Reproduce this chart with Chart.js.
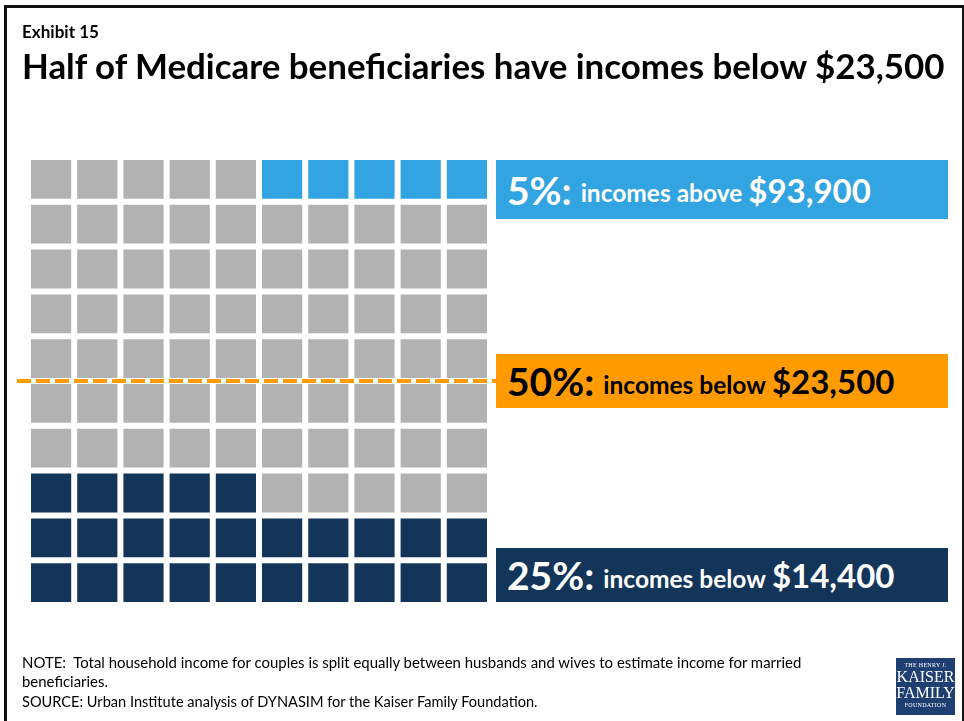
<!DOCTYPE html>
<html>
<head>
<meta charset="utf-8">
<script src="https://cdn.jsdelivr.net/npm/chart.js@4.4.0/dist/chart.umd.min.js"></script>
<style>
  html, body { margin: 0; padding: 0; background: #fff; }
  body { width: 964px; height: 721px; position: relative; overflow: hidden; font-family: Lato, "Open Sans", sans-serif; }
  #frame { position: absolute; left: 4px; top: 5px; width: 955px; height: 740px; border: 3px solid #111; }
  #waffle { position: absolute; left: 0; top: 0; }
  .txt { position: absolute; white-space: nowrap; }
  #exhibit { left: 22px; top: 21px; font-size: 15px; font-weight: 700; }
  #title { left: 22px; top: 45px; font-size: 36px; font-weight: 700; color: #000; }
  .box { position: absolute; left: 496px; width: 452px; height: 54px; display: flex; align-items: center; padding-left: 11px; box-sizing: border-box; font-weight: 700; white-space: nowrap; }
  .box .pct { font-size: 39px; }
  .box .mid { font-size: 24.5px; margin: 0 6px 0 9px; position: relative; top: 3px; }
  .box .amt { font-size: 33px; }
  #bTop { top: 160px; height: 59px; background: #33A4E2; color: #fff; }
  #bMid { top: 354px; background: #FF9A00; color: #000; }
  #bLow { top: 548px; background: #14355A; color: #fff; }
  .note { left: 22px; font-size: 13px; color: #000; }
  #logo { position: absolute; left: 896px; top: 658px; width: 59px; height: 57px; background: #1F3E72; color: #fff; font-family: "Liberation Serif", "DejaVu Serif", serif; text-align: center; }
  #logo div { line-height: 1; }
</style>
</head>
<body>
<div id="frame"></div>
<canvas id="waffle" width="964" height="721"></canvas>
<div class="txt" id="exhibit" data-w="77">Exhibit 15</div>
<div class="txt" id="title" data-w="923">Half of Medicare beneficiaries have incomes below $23,500</div>

<div class="box" id="bTop"><span class="pct">5%:</span><span class="mid">incomes above</span><span class="amt">$93,900</span></div>
<div class="box" id="bMid"><span class="pct">50%:</span><span class="mid">incomes below</span><span class="amt">$23,500</span></div>
<div class="box" id="bLow"><span class="pct">25%:</span><span class="mid">incomes below</span><span class="amt">$14,400</span></div>

<div class="txt note" id="note1" style="top:653px" data-w="780">NOTE:&nbsp; Total household income for couples is split equally between husbands and wives to estimate income for married</div>
<div class="txt note" id="note2" style="top:672px">beneficiaries.</div>
<div class="txt note" style="top:693px" data-w="516">SOURCE: Urban Institute analysis of DYNASIM for the Kaiser Family Foundation.</div>

<div id="logo">
  <div style="font-size:6px;margin-top:4px;letter-spacing:0.3px">THE HENRY J.</div>
  <div style="font-size:16px;margin-top:1px">KAISER</div>
  <div style="font-size:16px">FAMILY</div>
  <div style="font-size:6px;margin-top:1px;letter-spacing:0.3px">FOUNDATION</div>
</div>

<script>
// share of beneficiaries (percent), one waffle cell = 1%
const groups = ['Incomes below $14,400', 'Middle', 'Incomes above $93,900'];
const shares = [25, 70, 5];
const medianShare = 50;
const groupColors = ['#14355A', '#B2B2B2', '#33A4E2'];
const columns = ['1', '2', '3', '4', '5', '6', '7', '8', '9', '10'];
const rows = 10;

// cell colour: low group fills from bottom-left, top group from top-right
function cellColor(row, col) {
  const fromBottom = row * columns.length + col;
  const fromTop = (rows - 1 - row) * columns.length + (columns.length - 1 - col);
  if (fromBottom < shares[0]) return groupColors[0];
  if (fromTop < shares[2]) return groupColors[2];
  return groupColors[1];
}

const datasets = [];
for (let r = 0; r < rows; r++) {
  datasets.push({
    label: 'row ' + (r + 1),
    data: columns.map(() => 1),
    backgroundColor: columns.map((c, i) => cellColor(r, i)),
    borderColor: '#fff',
    borderWidth: 3,
    borderSkipped: false,
    inflateAmount: 0,
    barPercentage: 1,
    categoryPercentage: 1
  });
}

const medianLine = {
  id: 'medianLine',
  afterDatasetsDraw(chart) {
    const { ctx, chartArea, scales } = chart;
    const y = scales.y.getPixelForValue(medianShare / columns.length);
    ctx.save();
    ctx.strokeStyle = '#FF9A00';
    ctx.lineWidth = 4;
    ctx.setLineDash([14, 5]);
    ctx.beginPath();
    ctx.moveTo(chartArea.left - 11, y);
    ctx.lineTo(chartArea.right + 7, y);
    ctx.stroke();
    ctx.restore();
  }
};

new Chart(document.getElementById('waffle'), {
  type: 'bar',
  data: { labels: columns, datasets: datasets },
  options: {
    responsive: false,
    animation: false,
    layout: { padding: { left: 28, top: 157, right: 474, bottom: 116 } },
    plugins: { legend: { display: false }, tooltip: { enabled: false } },
    scales: {
      x: { stacked: true, display: false },
      y: { stacked: true, display: false, min: 0, max: rows }
    }
  },
  plugins: [medianLine]
});

// fit a few text lines to the widths seen in the picture
document.querySelectorAll('[data-w]').forEach(el => {
  const target = +el.dataset.w;
  const fs = parseFloat(getComputedStyle(el).fontSize);
  el.style.fontSize = (fs * target / el.getBoundingClientRect().width) + 'px';
});
document.getElementById('note2').style.fontSize = document.getElementById('note1').style.fontSize;
</script>
</body>
</html>
